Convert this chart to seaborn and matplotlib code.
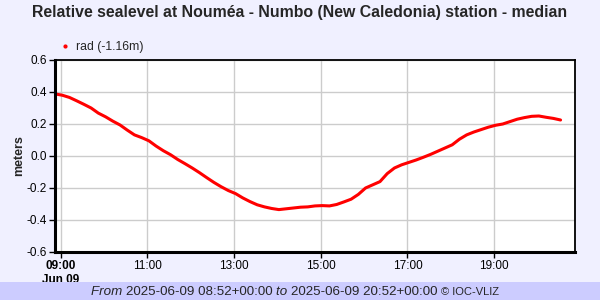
import matplotlib
matplotlib.use("Agg")
import matplotlib.pyplot as plt
from matplotlib.lines import Line2D
import seaborn as sns
import pandas as pd

# ---- data ----
times = ["08:52", "09:02", "09:12", "09:22", "09:32", "09:42", "09:52", "10:02", "10:12", "10:22",
         "10:32", "10:42", "10:52", "11:02", "11:12", "11:22", "11:32", "11:42", "11:52", "12:02",
         "12:12", "12:22", "12:32", "12:42", "12:52", "13:02", "13:12", "13:22", "13:32", "13:42",
         "13:52", "14:02", "14:12", "14:22", "14:32", "14:42", "14:52", "15:02", "15:12", "15:22",
         "15:32", "15:42", "15:52", "16:02", "16:12", "16:22", "16:32", "16:42", "16:52", "17:02",
         "17:12", "17:22", "17:32", "17:42", "17:52", "18:02", "18:12", "18:22", "18:32", "18:42",
         "18:52", "19:02", "19:12", "19:22", "19:32", "19:42", "19:52", "20:02", "20:12", "20:22",
         "20:32"]
levels = [0.388, 0.380, 0.366, 0.345, 0.323, 0.300, 0.268, 0.245, 0.218, 0.194,
          0.162, 0.132, 0.115, 0.095, 0.062, 0.033, 0.008, -0.022, -0.048, -0.075,
          -0.104, -0.135, -0.165, -0.192, -0.216, -0.235, -0.262, -0.285, -0.305, -0.318,
          -0.328, -0.335, -0.330, -0.325, -0.320, -0.318, -0.312, -0.310, -0.312, -0.303,
          -0.287, -0.270, -0.240, -0.200, -0.180, -0.160, -0.110, -0.075, -0.055, -0.040,
          -0.025, -0.008, 0.010, 0.030, 0.050, 0.070, 0.105, 0.132, 0.150, 0.165,
          0.180, 0.192, 0.200, 0.215, 0.230, 0.240, 0.248, 0.250, 0.242, 0.235,
          0.225]
y_ticks = [0.6, 0.4, 0.2, 0.0, -0.2, -0.4, -0.6]
x_tick_hours = [9, 11, 13, 15, 17, 19]
series_label = "rad (-1.16m)"
title = "Relative sealevel at Nouméa - Numbo (New Caledonia) station - median"
date_str = "2025-06-09"

df = pd.DataFrame({"time": pd.to_datetime([f"{date_str} {t}" for t in times]),
                   "level": levels})

sns.set_style("white")
plt.rcParams["font.family"] = ["Liberation Sans", "DejaVu Sans"]

BG = "#F0F0FF"
fig = plt.figure(figsize=(6, 3), dpi=100, facecolor=BG)
ax = fig.add_axes([55/600, 1-252/300, 520/600, 192/300])
ax.set_facecolor("white")

sns.lineplot(data=df, x="time", y="level", ax=ax, color="#FF0000", linewidth=2.2, legend=False)

ax.set_xlim(pd.Timestamp(f"{date_str} 08:52"), pd.Timestamp(f"{date_str} 20:52"))
ax.set_ylim(-0.6, 0.6)
ax.set_yticks(y_ticks)
ax.set_yticklabels([f"{v:.1f}" for v in y_ticks])
xt = [pd.Timestamp(f"{date_str} {h:02d}:00") for h in x_tick_hours]
ax.set_xticks(xt)
labels = [f"{h:02d}:00" for h in x_tick_hours]
labels[0] = "09:00\nJun 09"
ax.set_xticklabels(labels)
for i, lab in enumerate(ax.get_xticklabels()):
    lab.set_ha("center")
    if i == 0:
        lab.set_fontweight("bold")

ax.grid(True, color="#CCCCCC", linewidth=1)
ax.set_axisbelow(True)
ax.tick_params(axis="both", which="both", direction="out", length=4, width=1,
               labelsize=8.5, colors="black", pad=2, left=True, bottom=True)
ax.set_xlabel("")
ax.set_ylabel("meters", fontsize=9, fontweight="bold")
ax.yaxis.set_label_coords((25 - 55) / 520, 0.5)
for side in ["left", "bottom"]:
    ax.spines[side].set_linewidth(2.2)
for side in ["top", "right"]:
    ax.spines[side].set_linewidth(1.3)
for s in ax.spines.values():
    s.set_color("black")
    s.set_visible(True)

fig.text(0.5, 1-12/300, title, ha="center", va="center", fontsize=11.4, fontweight="bold")

handle = Line2D([], [], color="#FF0000", marker="o", markersize=2, linestyle="none")
fig.legend([handle], [series_label], loc="center left", bbox_to_anchor=(54/600, 1-47/300),
           frameon=False, fontsize=8.8, handlelength=1.0, handletextpad=0.4, borderaxespad=0)

# footer band
fig.patches.append(plt.Rectangle((0, 0), 1, 18/300, transform=fig.transFigure,
                                 facecolor="#CCCCFF", edgecolor="none", zorder=0))
pieces = [("From ", "italic", 9.6), ("2025-06-09 08:52+00:00 ", "normal", 9.6),
          ("to ", "italic", 9.6), ("2025-06-09 20:52+00:00 ", "normal", 9.6),
          ("© IOC-VLIZ", "normal", 8)]
fig.canvas.draw()
r = fig.canvas.get_renderer()
texts = []
for s, st, fs in pieces:
    t = fig.text(0, 1-292/300, s, fontstyle=st, fontsize=fs, va="center", ha="left")
    texts.append(t)
widths = [t.get_window_extent(r).width for t in texts]
total = sum(widths)
x = 295 - total/2
for t, w in zip(texts, widths):
    t.set_x(x/600)
    x += w

fig.savefig("out.png", dpi=100, facecolor=BG)
